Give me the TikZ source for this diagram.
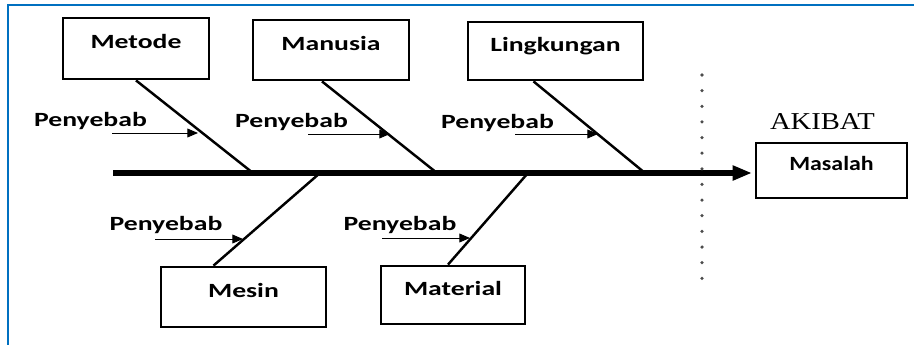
\documentclass[tikz,border=0pt]{standalone}
\usepackage{graphicx}
\usepackage{fontspec}
\setmainfont{Carlito}
\newfontfamily\akibatfont{Liberation Serif}
\usepackage{tikz}
\usetikzlibrary{arrows.meta,calc}
\definecolor{FrameBlue}{RGB}{0, 112, 192}
\newcommand{\wide}[2][1.37]{\scalebox{#1}[1]{#2}}

\begin{document}
\begin{tikzpicture}[x=0.02cm, y=-0.02cm, >={Triangle[length=6pt, width=5pt]},
    box/.style={draw, line width=1.6pt, inner sep=0pt, text height=8pt, text depth=8pt, font=\fontsize{11.5}{13}\selectfont\bfseries},
    bone/.style={line width=1.4pt},
    cause/.style={anchor=base, inner sep=0pt, font=\fontsize{11.5}{13}\selectfont\bfseries},
    causearrow/.style={->, line width=0.5pt}]
  \useasboundingbox (0,0) rectangle (914,345);
  \draw[FrameBlue, line width=1.4pt] (8,345) -- (8,5) -- (914,5);

  % boxes
  \node[box, minimum width=2.92cm, minimum height=1.22cm] (metode) at (136,48.5) {\wide{Metode}};
  \node[box, minimum width=3.12cm, minimum height=1.2cm] (manusia) at (331,50) {\wide{Manusia}};
  \node[box, minimum width=3.5cm, minimum height=1.16cm] (lingkungan) at (555.5,51) {\wide{Lingkungan}};
  \node[box, minimum width=3.3cm, minimum height=1.2cm] (mesin) at (243.5,297) {\wide{Mesin}};
  \node[box, minimum width=2.88cm, minimum height=1.16cm] (material) at (453,295) {\wide{Material}};
  \node[box, minimum width=3.02cm, minimum height=1.1cm] (masalah) at (831.5,170.5) {\wide[1.18]{Masalah}};
  \node[anchor=base, inner sep=0pt, font=\akibatfont\fontsize{13.8}{15}\selectfont] (akibat) at (822.5,129) {\wide[1.18]{AKIBAT}};

  % spine
  \coordinate (tail) at (113,173);
  \draw[line width=3pt, -{Triangle[length=11pt, width=8pt]}, shorten >=1.5pt] (tail) -- (tail -| masalah.west);

  % bones
  \coordinate (b1) at (253,173);
  \coordinate (b2) at (437,173);
  \coordinate (b3) at (645,173);
  \coordinate (b4) at (320,173);
  \coordinate (b5) at (528,173);
  \draw[bone] (metode.south) -- (b1);
  \draw[bone] ($(manusia.south)+(-9,0)$) -- (b2);
  \draw[bone] ($(lingkungan.south)+(-22,0)$) -- (b3);
  \draw[bone] (b4) -- ($(mesin.north)+(-30,0)$);
  \draw[bone] (b5) -- ($(material.north)+(-5,0)$);

  % causes
  \node[cause] (p1) at (90.5,126) {\wide{Penyebab}};
  \node[cause] (p2) at (291.5,127) {\wide{Penyebab}};
  \node[cause] (p3) at (497.5,128) {\wide{Penyebab}};
  \node[cause] (p4) at (166,230) {\wide{Penyebab}};
  \node[cause] (p5) at (400,230) {\wide{Penyebab}};
  \coordinate (t1) at (112,133); \coordinate (h1) at (198,133);
  \coordinate (t2) at (308,134); \coordinate (h2) at (390,134);
  \coordinate (t3) at (515,134); \coordinate (h3) at (598,134);
  \coordinate (t4) at (155,239); \coordinate (h4) at (243,239);
  \coordinate (t5) at (382,238); \coordinate (h5) at (470,238);
  \foreach \i in {1,...,5}
    \draw[causearrow] (t\i) -- (h\i);

  % separator
  \coordinate (d1) at (702,75);
  \coordinate (d2) at (702,288);
  \draw[gray!60!black, line width=2pt, line cap=round, dash pattern=on 0pt off 8.9pt] (d1) -- (d2);
\end{tikzpicture}
\end{document}
